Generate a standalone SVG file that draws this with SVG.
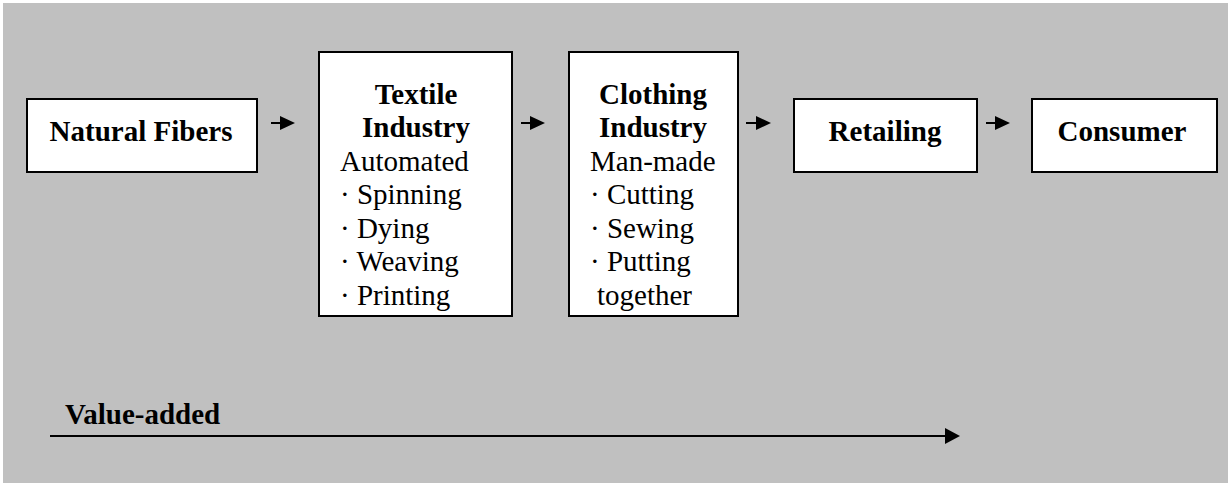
<svg xmlns="http://www.w3.org/2000/svg" width="1228" height="485" viewBox="0 0 1228 485">
<style>
.box{fill:#ffffff;stroke:#000000;stroke-width:2}
.b{font-family:"Liberation Serif","Times New Roman",serif;font-weight:bold;font-size:29px;fill:#000}
.r{font-family:"Liberation Serif","Times New Roman",serif;font-size:29px;fill:#000}
.c{text-anchor:middle}
.conn{stroke:#000;stroke-width:2;fill:none}
</style>
<defs>
<marker id="ah" markerUnits="userSpaceOnUse" markerWidth="15" markerHeight="14" refX="0" refY="7" orient="auto" overflow="visible">
<path d="M0,0 L15,7 L0,14 z" fill="#000"/>
</marker>
<marker id="ahBig" markerUnits="userSpaceOnUse" markerWidth="15" markerHeight="16" refX="0" refY="8" orient="auto" overflow="visible">
<path d="M0,0 L15,8 L0,16 z" fill="#000"/>
</marker>
</defs>
<rect x="3" y="3" width="1225" height="480" fill="#c0c0c0"/>
<g id="natural-fibers">
<rect class="box" x="27" y="99" width="230" height="73"/>
<text class="b c" x="141" y="141">Natural Fibers</text>
</g>
<g id="textile-industry">
<rect class="box" x="319" y="52" width="193" height="264"/>
<text class="b c" x="416" y="104">Textile</text>
<text class="b c" x="416" y="137">Industry</text>
<text class="r" x="340" y="171">Automated</text>
<text class="r" x="340" y="204">· Spinning</text>
<text class="r" x="340" y="238">· Dying</text>
<text class="r" x="340" y="271">· Weaving</text>
<text class="r" x="340" y="305">· Printing</text>
</g>
<g id="clothing-industry">
<rect class="box" x="569" y="52" width="169" height="264"/>
<text class="b c" x="653" y="104">Clothing</text>
<text class="b c" x="653" y="137">Industry</text>
<text class="r" x="590" y="171">Man-made</text>
<text class="r" x="590" y="204">· Cutting</text>
<text class="r" x="590" y="238">· Sewing</text>
<text class="r" x="590" y="271">· Putting</text>
<text class="r" x="597" y="305">together</text>
</g>
<g id="retailing">
<rect class="box" x="794" y="99" width="183" height="73"/>
<text class="b c" x="885" y="141">Retailing</text>
</g>
<g id="consumer">
<rect class="box" x="1032" y="99" width="185" height="73"/>
<text class="b c" x="1122" y="141">Consumer</text>
</g>
<g id="value-added">
<text class="b" x="65" y="424">Value-added</text>
</g>
<g id="connectors">
<line class="conn" x1="271" y1="123" x2="280" y2="123" marker-end="url(#ah)"/>
<line class="conn" x1="521" y1="123" x2="530" y2="123" marker-end="url(#ah)"/>
<line class="conn" x1="746" y1="123" x2="756" y2="123" marker-end="url(#ah)"/>
<line class="conn" x1="986" y1="123" x2="995" y2="123" marker-end="url(#ah)"/>
<line class="conn" x1="50" y1="436" x2="945" y2="436" marker-end="url(#ahBig)"/>
</g>
</svg>
